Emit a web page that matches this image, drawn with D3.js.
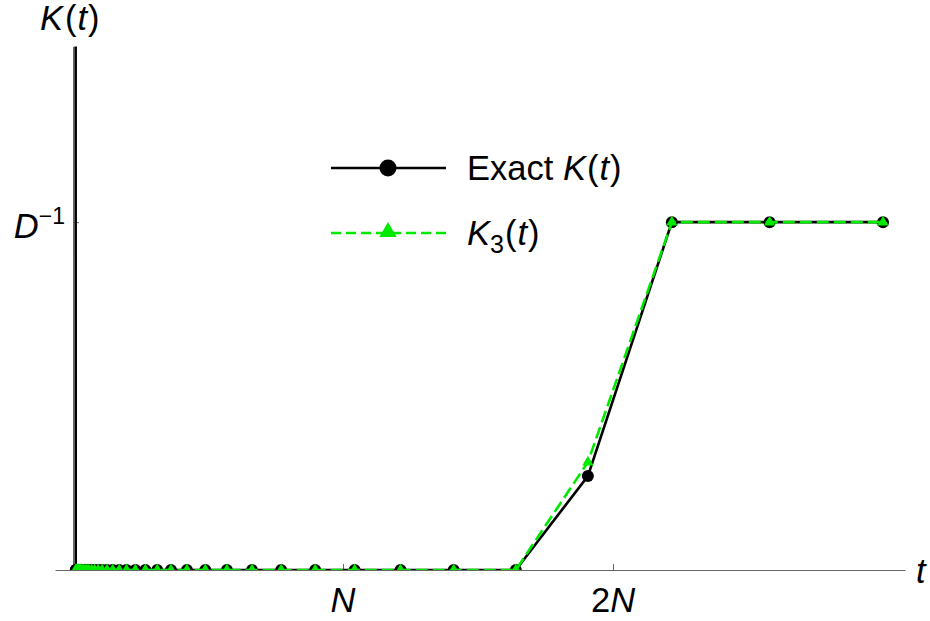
<!DOCTYPE html>
<html>
<head>
<meta charset="utf-8">
<script src="https://cdn.jsdelivr.net/npm/d3@7"></script>
<style>
  body { margin: 0; background: #fff; }
  text { font-family: "Liberation Sans", Arial, sans-serif; fill: #000; }
</style>
</head>
<body>
<svg id="chart" width="930" height="621"></svg>
<script>
// Sampled times, in units of N (logarithmically spaced, plus t = 0)
const tValues = [0,
  0.010, 0.011, 0.013, 0.015, 0.018, 0.021, 0.024, 0.028, 0.033, 0.038,
  0.044, 0.051, 0.059, 0.069, 0.080, 0.093, 0.108, 0.126, 0.147, 0.171,
  0.198, 0.231, 0.268, 0.312, 0.363, 0.422, 0.490, 0.570, 0.663, 0.771,
  0.897, 1.043, 1.213, 1.410, 1.640, 1.907, 2.218, 2.580, 3.000];

// Exact form factor, in units of D^-1 (K(0) lies far above the shown range)
const exactK = [60,
  0, 0, 0, 0, 0, 0, 0, 0, 0, 0,
  0, 0, 0, 0, 0, 0, 0, 0, 0, 0,
  0, 0, 0, 0, 0, 0, 0, 0, 0, 0,
  0, 0, 0, 0, 0, 0.27, 1, 1, 1];

// Third-order approximation K_3(t), in units of D^-1 (from the first nonzero time)
const k3Times = tValues.slice(1);
const k3Values = [
  0, 0, 0, 0, 0, 0, 0, 0, 0, 0,
  0, 0, 0, 0, 0, 0, 0, 0, 0, 0,
  0, 0, 0, 0, 0, 0, 0, 0, 0, 0,
  0, 0, 0, 0, 0, 0.31, 1, 1, 1];

const xTickValues = [1, 2];
const xTickLabels = [["", "N"], ["2", "N"]];
const yTickValues = [1];

const svg = d3.select("#chart");
const green = "#00ea00";
const fontPx = 34.5;

const x = d3.scaleLinear().domain([-0.0667, 3.0815]).range([55, 905]);
const y = d3.scaleLinear().domain([0, 1.505]).range([570, 46.5]);

svg.append("defs").append("clipPath").attr("id", "plotClip")
  .append("rect")
  .attr("x", x.range()[0]).attr("y", y.range()[1])
  .attr("width", x.range()[1] - x.range()[0])
  .attr("height", y.range()[0] - y.range()[1]);

// Axes
const xAxis = svg.append("g")
  .attr("transform", `translate(0,${y(0)})`)
  .call(d3.axisBottom(x).tickValues(xTickValues).tickSize(-6).tickSizeOuter(0).tickFormat(""));
const yAxis = svg.append("g")
  .attr("transform", `translate(${x(0)},0)`)
  .call(d3.axisLeft(y).tickValues(yTickValues).tickSize(-6).tickSizeOuter(0).tickFormat(""));
[xAxis, yAxis].forEach(g => {
  g.select(".domain").attr("stroke", "#666").attr("stroke-width", 1);
  g.selectAll(".tick line").attr("stroke", "#666").attr("stroke-width", 1);
});

// Tick labels
xTickValues.forEach((v, i) => {
  const t = svg.append("text")
    .attr("x", x(v)).attr("y", 612)
    .attr("text-anchor", "middle")
    .style("font-size", fontPx + "px");
  t.append("tspan").text(xTickLabels[i][0]);
  t.append("tspan").style("font-style", "italic").text(xTickLabels[i][1]);
});
const dLab = svg.append("text")
  .attr("x", x(0) - 8).attr("y", y(yTickValues[0]) + 16)
  .attr("text-anchor", "end")
  .style("font-size", fontPx + "px");
dLab.append("tspan").style("font-style", "italic").text("D");
dLab.append("tspan").attr("dy", -14).style("font-size", "23px").text("\u22121");

// Axis titles
const yTitle = svg.append("text")
  .attr("x", 40).attr("y", 30).style("font-size", fontPx + "px");
yTitle.append("tspan").style("font-style", "italic").text("K");
yTitle.append("tspan").attr("dx", 2).text("(");
yTitle.append("tspan").attr("dx", 1).style("font-style", "italic").text("t");
yTitle.append("tspan").attr("dx", 1).text(")");

svg.append("text")
  .attr("x", 916).attr("y", 583)
  .style("font-size", fontPx + "px").style("font-style", "italic")
  .text("t");

// Series
const plot = svg.append("g").attr("clip-path", "url(#plotClip)");
const exactPts = tValues.map((t, i) => [t, exactK[i]]);
const k3Pts = k3Times.map((t, i) => [t, k3Values[i]]);
const line = d3.line().x(d => x(d[0])).y(d => y(d[1]));

plot.append("path").datum(exactPts)
  .attr("d", line).attr("fill", "none")
  .attr("stroke", "#000").attr("stroke-width", 2.6);
plot.selectAll("circle.exact").data(exactPts).join("circle")
  .attr("class", "exact")
  .attr("cx", d => x(d[0])).attr("cy", d => y(d[1])).attr("r", 6)
  .attr("fill", "#000");

plot.append("path").datum(k3Pts)
  .attr("d", line).attr("fill", "none")
  .attr("stroke", green).attr("stroke-width", 2.6)
  .attr("stroke-dasharray", "12,5");
const tri = d3.symbol().type(d3.symbolTriangle).size(55);
plot.selectAll("path.k3").data(k3Pts).join("path")
  .attr("class", "k3")
  .attr("transform", d => `translate(${x(d[0])},${y(d[1])})`)
  .attr("d", tri).attr("fill", green);

// Legend
const legend = svg.append("g");
const legendRows = [
  { y: 168, color: "#000", dash: null, marker: "circle",
    label: [["Exact ", false, 0], ["K", true, 0], ["(", false, 0], ["t", true, 0], [")", false, 0]] },
  { y: 233, color: green, dash: "10,5", marker: "triangle",
    label: [["K", true, 0], ["3", false, 8], ["(", false, -8], ["t", true, 0], [")", false, 0]] }
];
legendRows.forEach(r => {
  legend.append("line")
    .attr("x1", 331).attr("x2", 446).attr("y1", r.y).attr("y2", r.y)
    .attr("stroke", r.color).attr("stroke-width", 2.4)
    .attr("stroke-dasharray", r.dash);
  if (r.marker === "circle") {
    legend.append("circle").attr("cx", 388).attr("cy", r.y).attr("r", 8.5).attr("fill", r.color);
  } else {
    legend.append("path")
      .attr("transform", `translate(388,${r.y - 1})`)
      .attr("d", d3.symbol().type(d3.symbolTriangle).size(130))
      .attr("fill", r.color);
  }
  const txt = legend.append("text").attr("x", 467).attr("y", r.y + 12).style("font-size", fontPx + "px");
  r.label.forEach(([s, it, dy]) => {
    const ts = txt.append("tspan").text(s);
    if (it) ts.style("font-style", "italic");
    if (dy) ts.attr("dy", dy);
    if (dy > 0) ts.style("font-size", "25px");
    if (s === "(" || s === "t" || s === ")") ts.attr("dx", 1);
  });
});
</script>
</body>
</html>
